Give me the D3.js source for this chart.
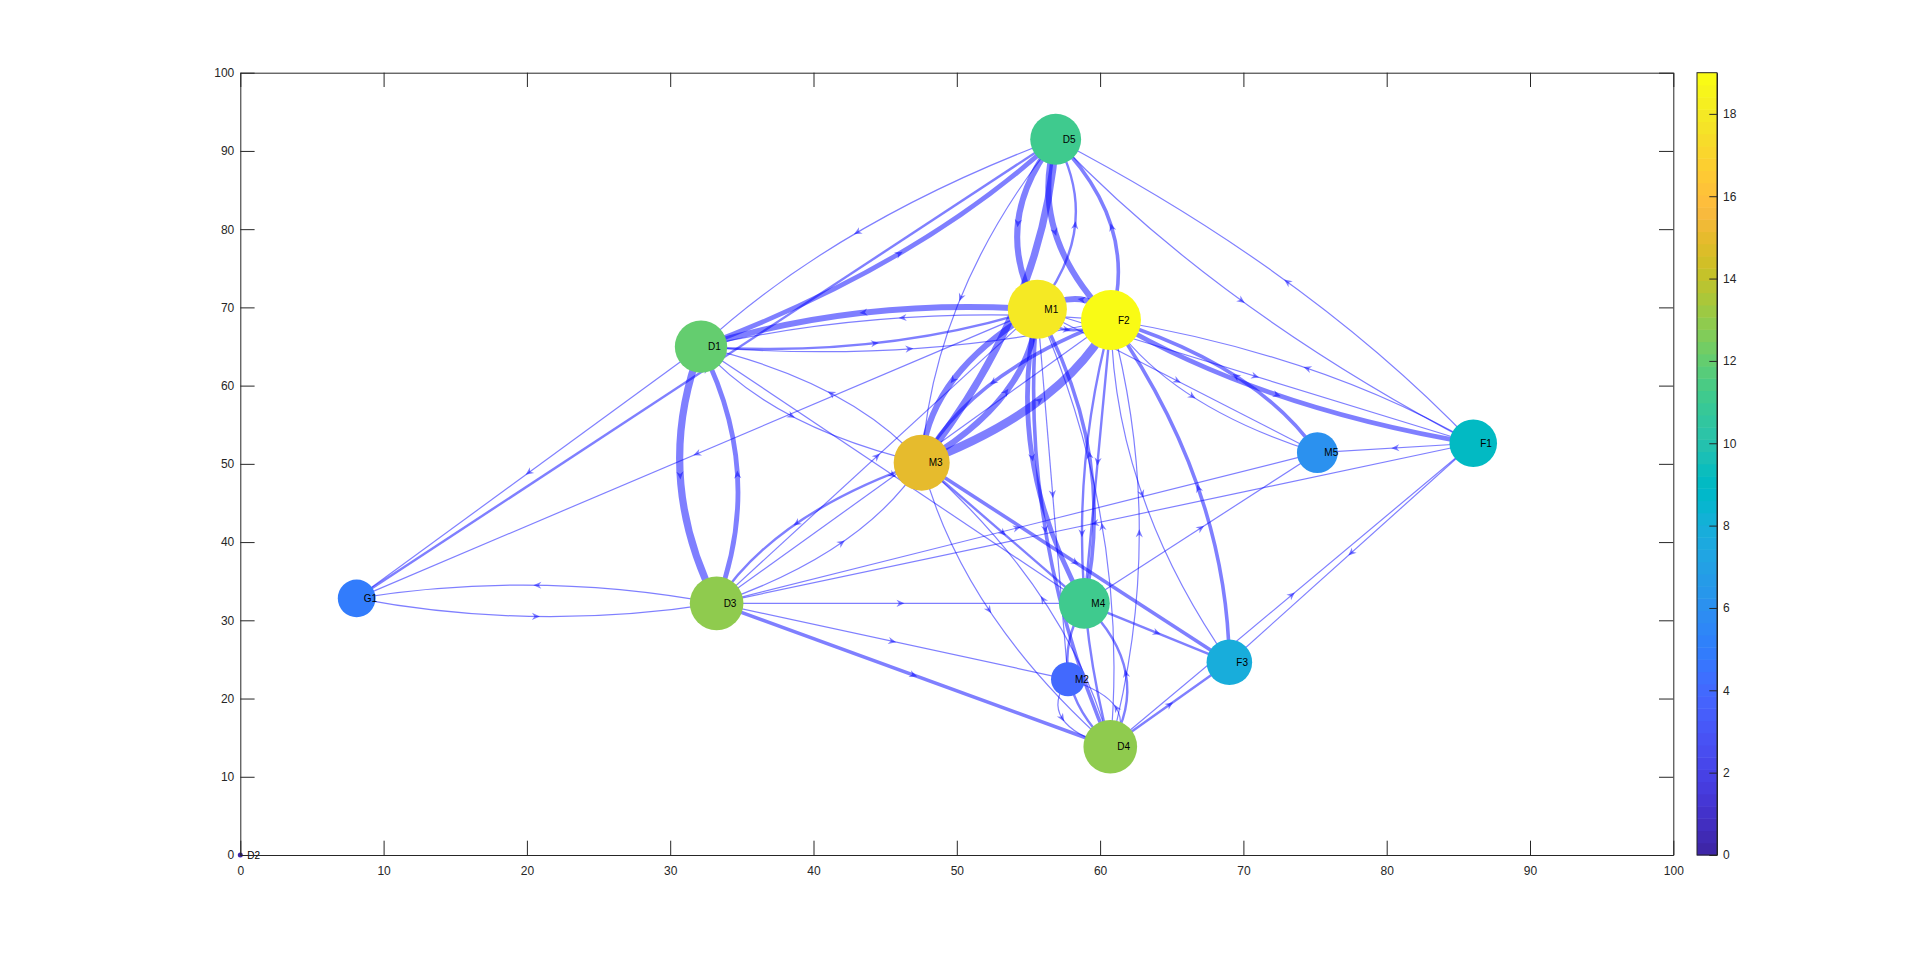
<!DOCTYPE html>
<html>
<head>
<meta charset="utf-8">
<script src="https://cdn.jsdelivr.net/npm/d3@7"></script>
<style>
  body { margin: 0; background: #ffffff; }
  svg { display: block; font-family: "Liberation Sans", Arial, Helvetica, sans-serif; }
</style>
</head>
<body>
<div id="myDataVis"></div>
<script>
// nodes: name, position (data units) and degree (drives colour + size)
var nodeNames  = ['D1', 'D2', 'D3', 'D4', 'D5', 'F1', 'F2', 'F3', 'G1', 'M1', 'M2', 'M3', 'M4', 'M5'];
var nodeX      = [32.15, 0, 33.24, 60.71, 56.90, 86.04, 60.76, 69.02, 8.12, 55.62, 57.76, 47.55, 58.90, 75.16];
var nodeY      = [64.98, 0, 32.17, 13.84, 91.49, 52.63, 68.39, 24.63, 32.81, 69.76, 22.46, 50.15, 32.17, 51.43];
var nodeDegree = [12, 0, 13, 13, 11, 9, 19, 8, 5, 18, 4, 15, 11, 6];

// directed edges: source -> target with weight
var edgeSource = ['G1','D3','D1','G1','M1','D1','D3','D1','D5','M1','D1','F2','D1','D1','M3','D1',
                  'D3','M3','D3','F2','D3','D3','F1','D3','D3','D5','M3','D5','M1','D5','F2','D5',
                  'F1','F2','M1','M3','M1','M1','M4','M1','D4','M1','M1','M1','M3','F2','F2','M5',
                  'F2','F1','F2','D4','F2','F2','F3','M3','M3','M3','D4','M4','M4','M4','D4','M2',
                  'D4','F1','F1','D4','D4'];
var edgeTarget = ['D3','G1','G1','D5','G1','D3','D1','D5','D1','D1','M1','D1','F2','M3','D1','M4',
                  'M3','D3','M1','D3','M4','M5','D3','M2','D4','M3','D5','M1','D5','F2','D5','F1',
                  'D5','M1','F2','M1','M3','M4','M1','D4','M1','M2','M5','F1','F2','M3','M5','F2',
                  'F1','F2','M4','F2','D4','F3','F2','M4','F3','D4','M3','M5','F3','D4','M4','D4',
                  'M2','M5','F3','F1','F3'];
var edgeWeight = [1, 1, 1, 2, 1, 6, 4, 4, 1, 5, 2, 1, 1, 1, 1, 1,
                  1, 2, 1, 1, 1, 1, 1, 1, 3, 1, 6, 5, 2, 5, 3, 1,
                  1, 5, 2, 5, 5, 4, 3, 3, 1, 1, 1, 1, 7, 3, 1, 3,
                  4, 1, 2, 1, 2, 1, 3, 2, 3, 1, 1, 1, 2, 2, 2, 1,
                  1, 1, 1, 1, 2];

var xTicks = [0, 10, 20, 30, 40, 50, 60, 70, 80, 90, 100];
var yTicks = [0, 10, 20, 30, 40, 50, 60, 70, 80, 90, 100];
var colorTicks = [0, 2, 4, 6, 8, 10, 12, 14, 16, 18];
var colorLimits = [0, 19];

// parula(64)
var parula = [
 [0.2422,0.1504,0.6603],[0.2504,0.1650,0.7076],[0.2578,0.1818,0.7511],[0.2647,0.1978,0.7952],
 [0.2706,0.2147,0.8364],[0.2751,0.2342,0.8710],[0.2783,0.2559,0.8991],[0.2803,0.2782,0.9221],
 [0.2813,0.3006,0.9414],[0.2810,0.3228,0.9579],[0.2795,0.3447,0.9717],[0.2760,0.3667,0.9829],
 [0.2699,0.3892,0.9906],[0.2602,0.4123,0.9952],[0.2440,0.4358,0.9988],[0.2206,0.4603,0.9973],
 [0.1963,0.4847,0.9892],[0.1834,0.5074,0.9798],[0.1786,0.5289,0.9682],[0.1764,0.5499,0.9520],
 [0.1687,0.5703,0.9359],[0.1540,0.5902,0.9218],[0.1460,0.6091,0.9079],[0.1380,0.6276,0.8973],
 [0.1248,0.6459,0.8883],[0.1113,0.6635,0.8763],[0.0952,0.6798,0.8598],[0.0689,0.6948,0.8394],
 [0.0297,0.7082,0.8163],[0.0036,0.7203,0.7917],[0.0067,0.7312,0.7660],[0.0433,0.7411,0.7394],
 [0.0964,0.7500,0.7120],[0.1408,0.7584,0.6842],[0.1717,0.7670,0.6554],[0.1938,0.7758,0.6251],
 [0.2161,0.7843,0.5923],[0.2470,0.7918,0.5567],[0.2906,0.7973,0.5188],[0.3406,0.8008,0.4789],
 [0.3909,0.8029,0.4354],[0.4456,0.8024,0.3909],[0.5044,0.7993,0.3480],[0.5616,0.7942,0.3045],
 [0.6174,0.7876,0.2612],[0.6720,0.7793,0.2227],[0.7242,0.7698,0.1910],[0.7738,0.7598,0.1646],
 [0.8203,0.7498,0.1535],[0.8634,0.7406,0.1596],[0.9035,0.7330,0.1774],[0.9393,0.7288,0.2100],
 [0.9728,0.7298,0.2394],[0.9956,0.7434,0.2371],[0.9970,0.7659,0.2199],[0.9952,0.7893,0.2028],
 [0.9892,0.8136,0.1885],[0.9786,0.8386,0.1766],[0.9676,0.8639,0.1643],[0.9610,0.8890,0.1537],
 [0.9597,0.9135,0.1423],[0.9628,0.9373,0.1265],[0.9691,0.9606,0.1064],[0.9769,0.9839,0.0805]
];

var svg;
const width = 1920;
const height = 962;
const plotLeft = 240.3, plotRight = 1673.3, plotTop = 72.7, plotBottom = 855;
const barLeft = 1697, barRight = 1717;
const axisColor = '#262626';
const edgeColor = '#0000ff';
const bend = 4.0;   // control point offset for reciprocal edges, data units
var x, y, c;

document.addEventListener('DOMContentLoaded', function () {
    drawGraph();
});

function parulaColor(v) {
    let i = Math.floor((v - colorLimits[0]) / (colorLimits[1] - colorLimits[0]) * parula.length);
    i = Math.max(0, Math.min(parula.length - 1, i));
    let p = parula[i];
    return d3.rgb(p[0] * 255, p[1] * 255, p[2] * 255).formatHex();
}

function drawGraph() {

    svg = d3.select('#myDataVis')
        .append('svg')
            .attr('width', width)
            .attr('height', height);

    svg.append('rect')
        .attr('width', width)
        .attr('height', height)
        .attr('fill', '#ffffff');

    x = d3.scaleLinear().domain([0, 100]).range([plotLeft, plotRight]);
    y = d3.scaleLinear().domain([0, 100]).range([plotBottom, plotTop]);
    c = d3.scaleLinear().domain(colorLimits).range([plotBottom, plotTop]);

    let rScale = d3.scaleLog().domain([4, 19]).range([17, 30]);
    let radius = d => d > 0 ? rScale(d) : 2.5;

    let nodes = nodeNames.map((n, i) => ({ name: n, x: nodeX[i], y: nodeY[i], deg: nodeDegree[i] }));
    let byName = {};
    nodes.forEach(n => byName[n.name] = n);

    let pairs = new Set(edgeSource.map((s, i) => s + '>' + edgeTarget[i]));
    let edges = edgeSource.map((s, i) => {
        let a = byName[s], b = byName[edgeTarget[i]];
        let curved = pairs.has(edgeTarget[i] + '>' + s);
        let dx = b.x - a.x, dy = b.y - a.y;
        let len = Math.hypot(dx, dy);
        // right-hand side of the direction, in data space
        let cx = (a.x + b.x) / 2, cy = (a.y + b.y) / 2;
        if (curved) {
            cx += dy / len * bend;
            cy += -dx / len * bend;
        }
        let p0 = [x(a.x), y(a.y)], p2 = [x(b.x), y(b.y)], pc = [x(cx), y(cy)];
        return {
            w: edgeWeight[i], curved: curved, p0: p0, pc: pc, p2: p2,
            mid: [0.25 * p0[0] + 0.5 * pc[0] + 0.25 * p2[0], 0.25 * p0[1] + 0.5 * pc[1] + 0.25 * p2[1]],
            angle: Math.atan2(p2[1] - p0[1], p2[0] - p0[0]) * 180 / Math.PI
        };
    });

    //edges
    svg.append('g')
        .selectAll('path')
        .data(edges)
        .enter()
        .append('path')
            .attr('d', d => d.curved
                ? `M${d.p0[0]},${d.p0[1]} Q${d.pc[0]},${d.pc[1]} ${d.p2[0]},${d.p2[1]}`
                : `M${d.p0[0]},${d.p0[1]} L${d.p2[0]},${d.p2[1]}`)
            .attr('fill', 'none')
            .attr('stroke', edgeColor)
            .attr('stroke-opacity', 0.5)
            .attr('stroke-width', d => 1.2 * d.w);

    //arrows at the middle of each edge
    svg.append('g')
        .selectAll('path')
        .data(edges)
        .enter()
        .append('path')
            .attr('d', 'M4,0 L-4,-3.6 L-1.5,0 L-4,3.6 Z')
            .attr('transform', d => `translate(${d.mid[0]},${d.mid[1]}) rotate(${d.angle})`)
            .attr('fill', edgeColor)
            .attr('fill-opacity', 0.5);

    //nodes
    svg.append('g')
        .selectAll('circle')
        .data(nodes)
        .enter()
        .append('circle')
            .attr('cx', d => x(d.x))
            .attr('cy', d => y(d.y))
            .attr('r', d => radius(d.deg))
            .attr('fill', d => parulaColor(d.deg));

    svg.append('g')
        .selectAll('text')
        .data(nodes)
        .enter()
        .append('text')
            .text(d => d.name)
            .attr('x', d => x(d.x) + 7)
            .attr('y', d => y(d.y))
            .attr('dy', '0.36em')
            .attr('font-size', '10px')
            .attr('fill', '#000000');

    //axes box with inward ticks
    let tick = 14.3;
    svg.append('g')
        .attr('transform', `translate(0,${plotBottom})`)
        .call(d3.axisBottom(x).tickValues(xTicks).tickSizeInner(-tick).tickSizeOuter(0).tickPadding(11))
        .call(styleAxis);
    svg.append('g')
        .attr('transform', `translate(0,${plotTop})`)
        .call(d3.axisTop(x).tickValues(xTicks).tickSizeInner(-tick).tickSizeOuter(0).tickFormat(''))
        .call(styleAxis);
    svg.append('g')
        .attr('transform', `translate(${plotLeft},0)`)
        .call(d3.axisLeft(y).tickValues(yTicks).tickSizeInner(-tick).tickSizeOuter(0).tickPadding(6))
        .call(styleAxis);
    svg.append('g')
        .attr('transform', `translate(${plotRight},0)`)
        .call(d3.axisRight(y).tickValues(yTicks).tickSizeInner(-tick).tickSizeOuter(0).tickFormat(''))
        .call(styleAxis);

    //colorbar
    let levels = d3.range(parula.length);
    let step = (colorLimits[1] - colorLimits[0]) / parula.length;
    svg.append('g')
        .selectAll('rect')
        .data(levels)
        .enter()
        .append('rect')
            .attr('x', barLeft)
            .attr('width', barRight - barLeft)
            .attr('y', i => c(colorLimits[0] + (i + 1) * step))
            .attr('height', i => c(colorLimits[0] + i * step) - c(colorLimits[0] + (i + 1) * step) + 0.5)
            .attr('fill', i => parulaColor(colorLimits[0] + (i + 0.5) * step));

    svg.append('g')
        .attr('transform', `translate(${barRight},0)`)
        .call(d3.axisRight(c).tickValues(colorTicks).tickSizeInner(-7.7).tickSizeOuter(0).tickPadding(6))
        .call(styleAxis);

    svg.append('rect')
        .attr('x', barLeft)
        .attr('y', plotTop)
        .attr('width', barRight - barLeft)
        .attr('height', plotBottom - plotTop)
        .attr('fill', 'none')
        .attr('stroke', axisColor)
        .attr('stroke-width', 1);
}

function styleAxis(g) {
    g.select('.domain')
        .attr('stroke', axisColor)
        .attr('stroke-width', 1);
    g.selectAll('.tick line')
        .attr('stroke', axisColor)
        .attr('stroke-width', 1);
    g.selectAll('.tick text')
        .attr('fill', axisColor)
        .attr('font-size', '12px')
        .attr('font-family', '"Liberation Sans", Arial, Helvetica, sans-serif');
}
</script>
</body>
</html>
